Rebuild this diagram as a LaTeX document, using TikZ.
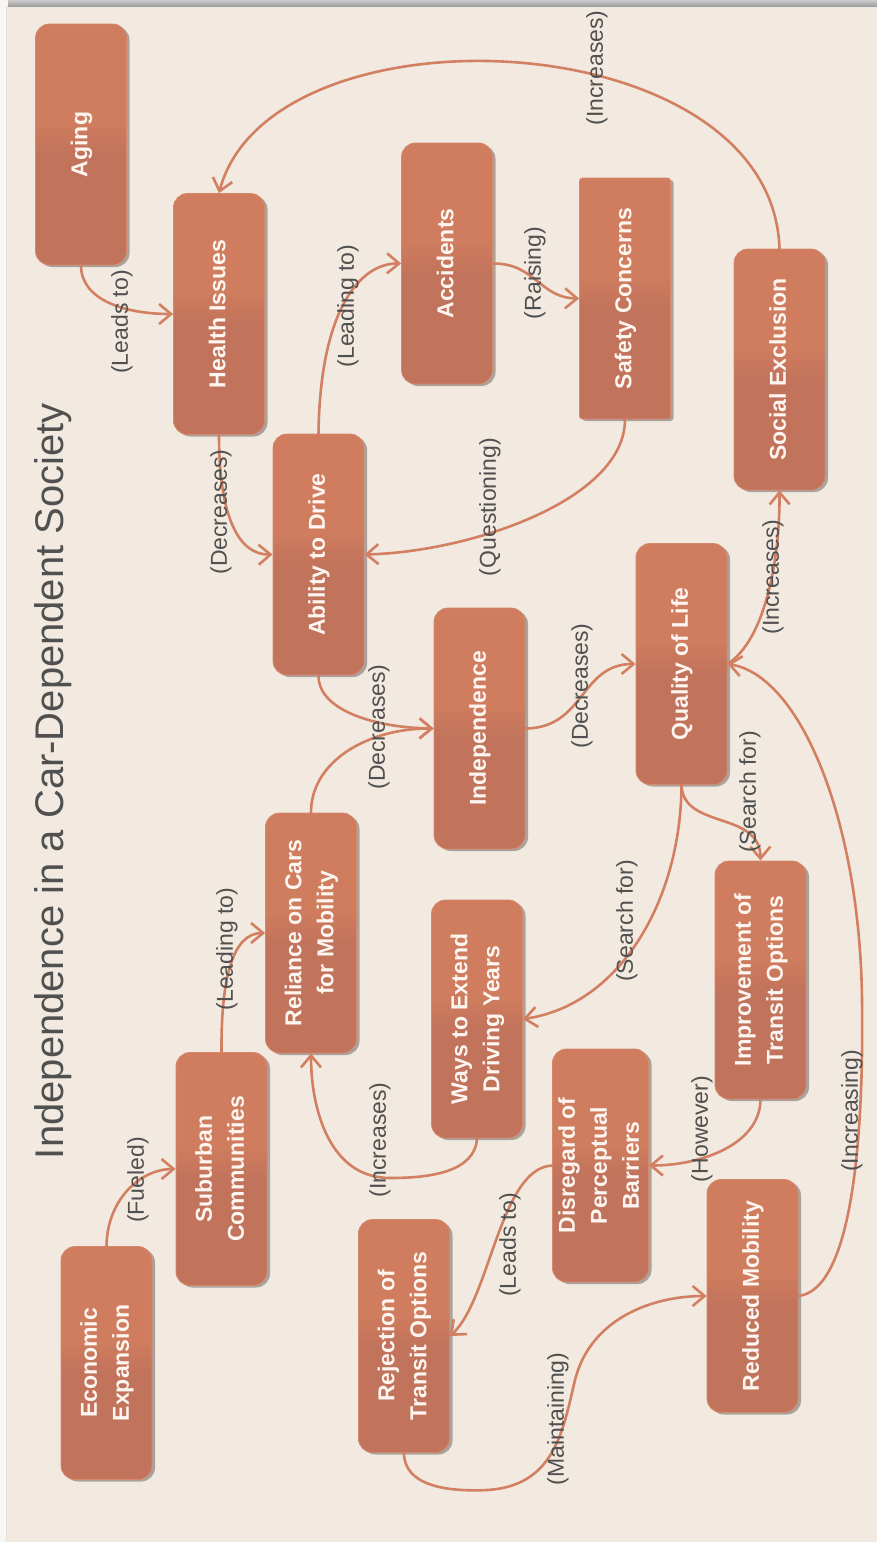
\documentclass[tikz,border=0pt]{standalone}
\usepackage{fontspec}
\setmainfont{Liberation Sans}
\usepackage{graphicx}
\usetikzlibrary{arrows.meta,shadows}

\definecolor{paper}{HTML}{F2EAE0}
\definecolor{boxlight}{HTML}{D07D5F}
\definecolor{boxdark}{HTML}{C2735B}
\definecolor{boxedge}{HTML}{D6886B}
\definecolor{wire}{HTML}{D27F62}
\definecolor{ink}{HTML}{505050}
\definecolor{boxink}{HTML}{FCF5F0}

% lighter upper half, darker lower half
\pgfdeclareverticalshading{boxshade}{100bp}{color(0bp)=(boxdark); color(25bp)=(boxdark); color(48bp)=(boxdark); color(55bp)=(boxlight); color(75bp)=(boxlight); color(100bp)=(boxlight)}

% vertical (bottom-to-top) text block, lines centred
\newcommand{\vtext}[1]{\rotatebox{90}{\begin{tabular}{@{}c@{}}#1\end{tabular}}}

\tikzset{
  box/.style={rectangle, rounded corners=14pt, minimum width=91pt,
    minimum height=241pt, inner sep=0pt, draw=boxedge, line width=0.8pt,
    shade, shading=boxshade, text=boxink,
    font=\fontsize{23}{32}\selectfont\bfseries,
    drop shadow={shadow xshift=3pt, shadow yshift=-2pt, fill=black, opacity=0.3}},
  lowbox/.style={box, minimum height=233pt},
  lbl/.style={rotate=90, text=ink, font=\fontsize{23}{28}\selectfont, inner sep=0pt},
  link/.style={draw=wire, line width=2.6pt, line cap=round,
    -{Straight Barb[length=12pt,width=20pt]}}
}

\begin{document}
\begin{tikzpicture}[x=1pt,y=-1pt]
\useasboundingbox (0,0) rectangle (877,1542);

% page
\fill[white!60!paper] (0,0) rectangle (877,1542);
\fill[paper] (6,6) rectangle (877,1542);
\draw[black!12, line width=0.8pt] (6,6) -- (6,1542);
\shade[top color=black!20, bottom color=black!38] (8,0) rectangle (877,6);

% title
\node[rotate=90, text=ink, font=\fontsize{40}{48}\selectfont, inner sep=0pt] (title) at (53,781)
  {Independence in a Car-Dependent Society};

% concepts
\node[box] (aging)     at (81,144.5)   {\vtext{Aging}};
\node[box] (health)    at (219,314)    {\vtext{Health Issues}};
\node[box] (accidents) at (447,263.5)  {\vtext{Accidents}};
\node[box, rounded corners=3pt] (safety) at (625,298.5) {\vtext{Safety Concerns}};
\node[box] (social)    at (779.5,369.5) {\vtext{Social Exclusion}};
\node[box] (ability)   at (318.5,554.5) {\vtext{Ability to Drive}};
\node[box] (indep)     at (479.5,728.5) {\vtext{Independence}};
\node[box] (qol)       at (681.5,664)  {\vtext{Quality of Life}};
\node[box, minimum height=240pt] (reliance) at (311,933) {\vtext{Reliance on Cars\\for Mobility}};
\node[box, minimum height=238pt] (ways)     at (477,1019) {\vtext{Ways to Extend\\Driving Years}};
\node[box, minimum height=238pt] (improve)  at (760.5,980) {\vtext{Improvement of\\Transit Options}};
\node[lowbox] (suburban)  at (221.5,1169)  {\vtext{Suburban\\Communities}};
\node[lowbox] (economic)  at (106.5,1363)  {\vtext{Economic\\Expansion}};
\node[lowbox] (rejection) at (404,1336)    {\vtext{Rejection of\\Transit Options}};
\node[lowbox] (disregard) at (600.5,1165.5) {\vtext{Disregard of\\Perceptual\\Barriers}};
\node[lowbox] (reduced)   at (752.5,1296)  {\vtext{Reduced Mobility}};

% relations
\draw[link] (aging.south) .. controls (81,300) and (125,314) .. (health.west);
\draw[link] (health.south) .. controls (219,520) and (240,555) .. (ability.west);
\draw[link] (ability.north) .. controls (320,310) and (360,263) .. (accidents.west);
\draw[link] (accidents.east) .. controls (535,263) and (540,298) .. (safety.west);
\draw[link] (safety.south) .. controls (625,500) and (470,552) .. (ability.east);
\draw[link] (social.north) .. controls (772,20) and (270,0) .. (health.north);
\draw[link] (ability.south) .. controls (318,712) and (380,728) .. (indep.west);
\draw[link] (reliance.north) .. controls (311,760) and (370,728) .. (indep.west);
\draw[link] (indep.east) .. controls (585,728) and (580,664) .. (qol.west);
\draw[link] (qol.east) .. controls (765,640) and (780,560) .. (social.south);
\draw[link] (reduced.east) .. controls (850,1290) and (864,1150) .. (862,1000)
  .. controls (860,820) and (800,675) .. (qol.east);
\draw[link] (qol.south) .. controls (683,830) and (760,810) .. (improve.north);
\draw[link] (qol.south) .. controls (681,900) and (620,1005) .. (ways.east);
\draw[link] (ways.south) .. controls (475,1172) and (430,1178) .. (390,1178)
  .. controls (330,1178) and (311,1110) .. (reliance.south);
\draw[link] (economic.north) .. controls (107,1200) and (140,1169) .. (suburban.west);
\draw[link] (suburban.north) .. controls (221,980) and (232,933) .. (reliance.west);
\draw[link] (improve.south) .. controls (760,1145) and (700,1165.5) .. (disregard.east);
\draw[link] (disregard.west) .. controls (500,1168) and (490,1300) .. (rejection.east);
\draw[link] (rejection.south) .. controls (404,1485) and (445,1492) .. (487,1490)
  .. controls (555,1486) and (563,1430) .. (575,1380)
  .. controls (590,1320) and (650,1296) .. (reduced.west);

% relation labels
\node[lbl] (l1)  at (122,322)  {(Leads to)};
\node[lbl] (l2)  at (221,512)  {(Decreases)};
\node[lbl] (l3)  at (348,306)  {(Leading to)};
\node[lbl] (l4)  at (535,273)  {(Raising)};
\node[lbl] (l5)  at (490,507)  {(Questioning)};
\node[lbl] (l6)  at (597,68)   {(Increases)};
\node[lbl] (l7)  at (379,727)  {(Decreases)};
\node[lbl] (l8)  at (582,686)  {(Decreases)};
\node[lbl] (l9)  at (773,577)  {(Increases)};
\node[lbl] (l10) at (852,1111) {(Increasing)};
\node[lbl] (l11) at (750,792)  {(Search for)};
\node[lbl] (l12) at (627,921)  {(Search for)};
\node[lbl] (l13) at (380,1140) {(Increases)};
\node[lbl] (l14) at (138,1180) {(Fueled)};
\node[lbl] (l15) at (227,949)  {(Leading to)};
\node[lbl] (l16) at (702,1129) {(However)};
\node[lbl] (l17) at (510,1245) {(Leads to)};
\node[lbl] (l18) at (558,1419) {(Maintaining)};
\end{tikzpicture}
\end{document}
